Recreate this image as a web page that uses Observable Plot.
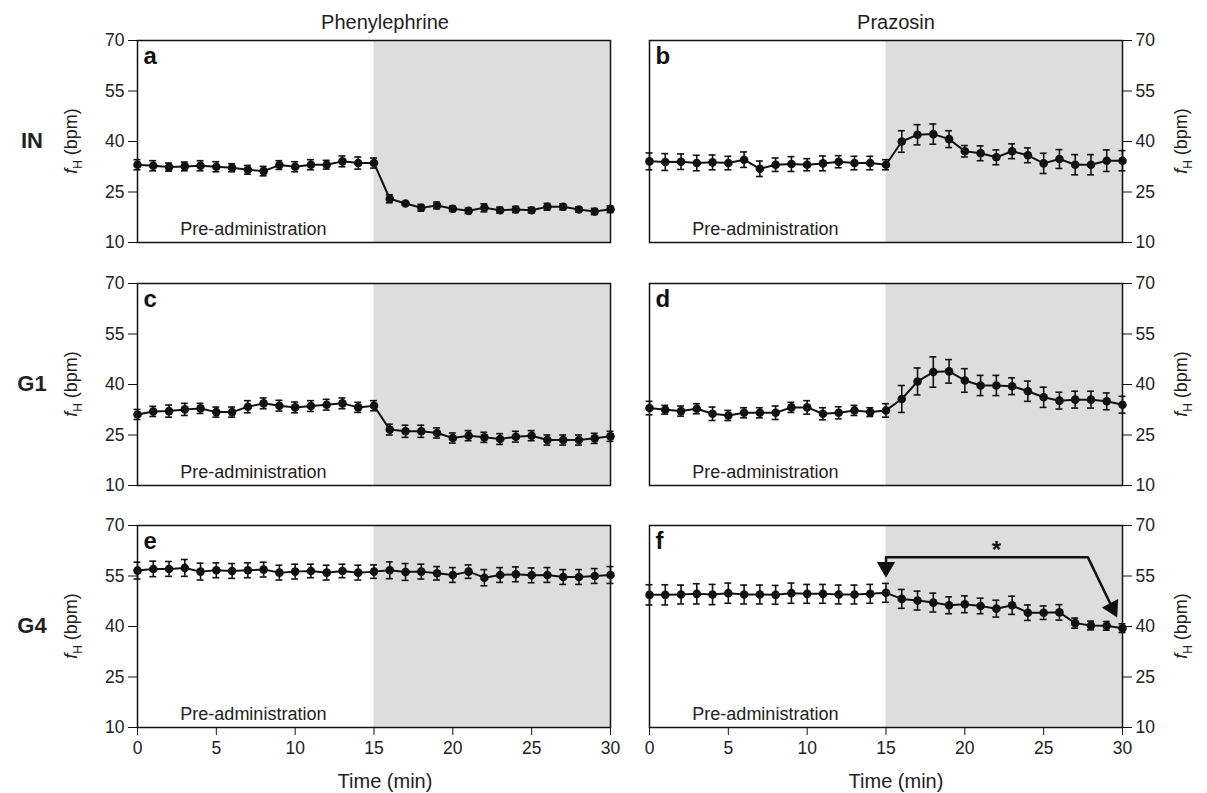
<!DOCTYPE html>
<html>
<head>
<meta charset="utf-8">
<script src="https://cdn.jsdelivr.net/npm/d3@7"></script>
<script src="https://cdn.jsdelivr.net/npm/@observablehq/plot@0.6"></script>
<style>
  body { margin: 0; background: #fff; font-family: 'Liberation Sans', Arial, sans-serif; color: #222; }
  #root { position: relative; width: 1207px; height: 793px; overflow: hidden; }
  .abs { position: absolute; line-height: 1; }
  .coltitle { font-size: 20px; transform: translate(-50%, -50%); white-space: nowrap; }
  .rowlab { font-size: 22px; font-weight: bold; transform: translate(-50%, -50%); }
  .ylab { font-size: 18px; white-space: nowrap; transform: translate(-50%, -50%) rotate(-90deg); }
  .ylab sub { font-size: 12px; }
  .xlab { font-size: 20px; transform: translate(-50%, -50%); white-space: nowrap; }
</style>
</head>
<body>
<div id="root"></div>
<script>
// ---------------- data ----------------
const time = [0,1,2,3,4,5,6,7,8,9,10,11,12,13,14,15,16,17,18,19,20,21,22,23,24,25,26,27,28,29,30];
const xTicks = [0,5,10,15,20,25,30];
const yTicks = [10,25,40,55,70];
const colTitles = ["Phenylephrine", "Prazosin"];
const rowLabels = ["IN", "G1", "G4"];
const panelLetters = ["a","b","c","d","e","f"];
const shadeStart = 15, shadeEnd = 30;

// a: IN, phenylephrine
const meanA = [33.1,32.8,32.4,32.6,32.8,32.5,32.2,31.6,31.2,33.0,32.5,33.1,33.1,34.1,33.6,33.6,23.0,21.6,20.3,21.0,20.0,19.4,20.3,19.6,19.8,19.6,20.6,20.6,19.8,19.2,19.9];
const errA  = [1.5,1.5,1.2,1.3,1.5,1.5,1.2,1.3,1.4,1.3,1.5,1.5,1.3,1.6,1.8,1.5,1.2,0.5,1.0,1.0,0.8,0.8,1.2,0.9,0.9,0.8,1.0,0.9,0.8,0.9,1.0];
// b: IN, prazosin
const meanB = [34.1,33.9,34.0,33.6,33.8,33.6,34.6,31.9,33.1,33.3,33.1,33.5,34.0,33.6,33.6,33.1,40.0,42.0,42.2,40.7,37.1,36.5,35.3,37.1,35.9,33.5,34.8,33.1,33.1,34.3,34.3];
const errB  = [2.5,2.5,2.3,2.3,2.2,2.0,2.3,2.3,2.0,2.2,1.8,2.2,1.8,2.0,2.0,1.5,3.2,3.0,3.0,2.5,1.7,2.2,2.2,2.2,2.2,3.0,2.8,3.0,3.0,3.2,3.0];
// c: G1, phenylephrine
const meanC = [31.1,32.0,32.1,32.6,32.9,31.8,31.8,33.4,34.4,33.7,33.2,33.6,34.0,34.4,33.2,33.7,26.6,26.1,26.1,25.6,24.1,24.8,24.3,23.8,24.5,24.8,23.5,23.5,23.5,24.0,24.6];
const errC  = [1.5,1.5,1.8,1.8,1.5,1.5,1.5,1.8,1.6,1.6,1.6,1.6,1.6,1.6,1.5,1.5,1.6,1.8,1.8,1.5,1.5,1.5,1.5,1.6,1.6,1.5,1.5,1.5,1.5,1.5,1.5];
// d: G1, prazosin
const meanD = [33.0,32.5,32.1,32.8,31.3,30.8,31.6,31.6,31.6,33.2,33.2,31.3,31.6,32.3,31.8,32.3,35.7,40.9,43.7,43.9,41.2,39.7,39.7,39.5,38.0,36.2,35.2,35.5,35.5,35.0,34.0];
const errD  = [2.0,1.3,1.5,1.5,2.0,1.5,1.5,1.5,2.0,1.5,2.0,1.8,1.8,1.5,1.3,2.0,4.0,4.0,4.5,3.5,3.5,3.0,3.0,2.5,3.0,3.0,2.5,2.5,2.5,2.5,2.5];
// e: G4, phenylephrine
const meanE = [56.6,57.1,57.1,57.4,56.3,56.7,56.5,56.7,56.9,56.0,56.3,56.5,56.0,56.5,56.0,56.3,56.7,56.2,56.3,55.8,55.3,56.3,54.5,55.3,55.5,55.2,55.3,54.7,54.7,55.0,55.3];
const errE  = [2.5,2.3,2.2,2.5,2.5,2.2,2.2,2.2,2.2,2.2,2.2,2.0,2.2,2.0,2.2,2.0,2.5,2.5,2.2,2.0,2.2,2.0,2.4,2.2,2.2,2.2,2.2,2.2,2.2,2.2,2.5];
// f: G4, prazosin
const meanF = [49.4,49.4,49.5,49.7,49.5,49.9,49.5,49.5,49.4,49.9,49.7,49.7,49.5,49.5,49.7,50.0,48.2,47.7,47.1,46.3,46.6,46.1,45.3,46.3,44.1,44.1,44.2,41.0,40.3,40.2,39.5];
const errF  = [3.0,3.0,2.8,3.0,3.0,3.0,2.8,2.8,2.8,3.0,2.8,2.8,2.8,2.8,2.8,2.8,2.8,2.8,2.8,2.5,2.5,2.3,2.5,2.7,2.3,2.0,2.3,1.5,1.3,1.3,1.3];

// annotation in f (bracket with arrows and asterisk)
const fBracket = [{t:15, v:57.6}, {t:15, v:60.6}, {t:27.8, v:60.6}, {t:29.36, v:45.5}];
const fHeads = [{t:15, v:57.6, rot:180}, {t:29.36, v:45.5, rot:153}];
const fStar = [{t:22, v:62.6, s:"*"}];

// ---------------- layout ----------------
const root = document.getElementById("root");
const INK = "#111";
const cols = [
  {left: 0,   width: 620, mL: 137, mR: 10, side: "left",  center: 385},
  {left: 620, width: 587, mL: 29,  mR: 85, side: "right", center: 896}
];
const rows = [
  {top: 40,  bottomAxis: false},
  {top: 283, bottomAxis: false},
  {top: 525, bottomAxis: true}
];
const plotH = 202, mT = 12;
const means = [meanA, meanB, meanC, meanD, meanE, meanF];
const errs  = [errA, errB, errC, errD, errE, errF];

function panel(ci, ri) {
  const idx = ri * 2 + ci;
  const col = cols[ci], row = rows[ri];
  const data = time.map((t, i) => ({t, m: means[idx][i], e: errs[idx][i]}));
  const mB = row.bottomAxis ? 36 : 12;
  const cap = 0.22;
  const marks = [
    Plot.rect([{x1: shadeStart, x2: shadeEnd}], {x1: "x1", x2: "x2", y1: yTicks[0], y2: yTicks[yTicks.length-1], fill: "#dddddd"}),
    Plot.axisY({anchor: col.side, ticks: yTicks, tickSize: 9, tickPadding: 4, label: null, fontSize: 17.5, stroke: INK, fill: "#222"}),
    Plot.ruleX(data, {x: "t", y1: d => d.m - d.e, y2: d => d.m + d.e, stroke: INK, strokeWidth: 1.6}),
    Plot.ruleY(data, {y: d => d.m - d.e, x1: d => d.t - cap, x2: d => d.t + cap, stroke: INK, strokeWidth: 1.6}),
    Plot.ruleY(data, {y: d => d.m + d.e, x1: d => d.t - cap, x2: d => d.t + cap, stroke: INK, strokeWidth: 1.6}),
    Plot.line(data, {x: "t", y: "m", stroke: INK, strokeWidth: 2}),
    Plot.dot(data, {x: "t", y: "m", r: 4.3, fill: INK, stroke: null}),
    Plot.text([panelLetters[idx]], {frameAnchor: "top-left", dx: 6, dy: 6, fontWeight: "bold", fontSize: 24, fill: INK}),
    Plot.text(["Pre-administration"], {x: 7.35, frameAnchor: "bottom", dy: -8, fontSize: 18, fill: "#222"}),
    Plot.frame({stroke: INK, strokeWidth: 1.5})
  ];
  if (row.bottomAxis) {
    marks.push(Plot.axisX({ticks: xTicks, tickSize: 8, tickPadding: 6, label: null, fontSize: 17.5, stroke: INK, fill: "#222"}));
  }
  if (idx === 5) {
    marks.push(Plot.line(fBracket, {x: "t", y: "v", stroke: INK, strokeWidth: 2.5}));
    marks.push(Plot.dot(fHeads, {x: "t", y: "v", symbol: "triangle", r: 6.8, rotate: "rot", fill: INK, stroke: null}));
    marks.push(Plot.text(fStar, {x: "t", y: "v", text: "s", fontSize: 24, fontWeight: "bold", fill: INK}));
  }
  const svg = Plot.plot({
    width: col.width,
    height: mT + plotH + mB,
    marginLeft: col.mL, marginRight: col.mR, marginTop: mT, marginBottom: mB,
    x: {domain: [xTicks[0], xTicks[xTicks.length-1]], axis: row.bottomAxis ? undefined : null},
    y: {domain: [yTicks[0], yTicks[yTicks.length-1]]},
    style: {fontFamily: "'Liberation Sans', Arial, sans-serif", fontSize: "17px", color: "#222", background: "transparent", overflow: "visible"},
    marks
  });
  const wrap = document.createElement("div");
  wrap.className = "abs";
  wrap.style.left = col.left + "px";
  wrap.style.top = (row.top - mT) + "px";
  wrap.appendChild(svg);
  root.appendChild(wrap);
}

for (let ri = 0; ri < 3; ri++) for (let ci = 0; ci < 2; ci++) panel(ci, ri);

function addDiv(cls, html, x, y) {
  const d = document.createElement("div");
  d.className = "abs " + cls;
  d.innerHTML = html;
  d.style.left = x + "px";
  d.style.top = y + "px";
  root.appendChild(d);
}
// column titles
addDiv("coltitle", colTitles[0], cols[0].center, 22);
addDiv("coltitle", colTitles[1], cols[1].center, 22);
// row labels and y labels
rows.forEach((r, i) => {
  const cy = r.top + plotH / 2;
  addDiv("rowlab", rowLabels[i], 32, cy);
  addDiv("ylab", "<i>f</i><sub>H</sub> (bpm)", 73, cy);
  addDiv("ylab", "<i>f</i><sub>H</sub> (bpm)", 1183, cy);
});
// x labels
addDiv("xlab", "Time (min)", cols[0].center, 781);
addDiv("xlab", "Time (min)", cols[1].center, 781);
</script>
</body>
</html>
